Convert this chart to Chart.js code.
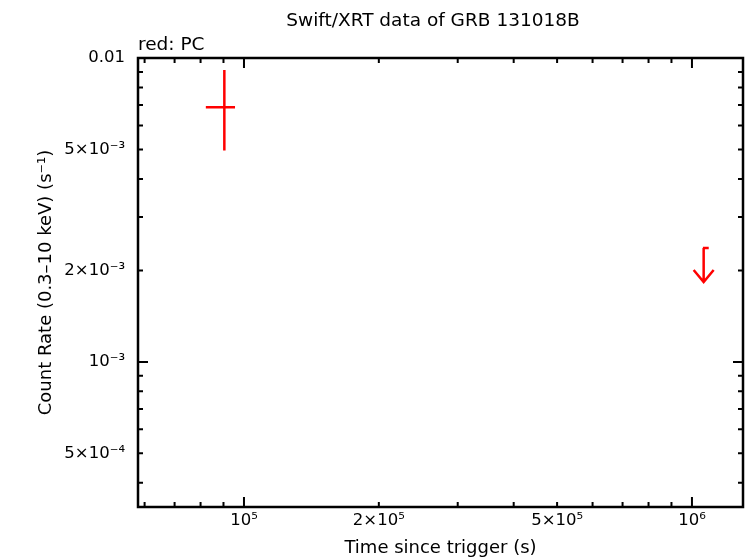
<!DOCTYPE html>
<html>
<head>
<meta charset="utf-8">
<script src="https://cdn.jsdelivr.net/npm/chart.js@4"></script>
<style>
  html, body { margin: 0; padding: 0; background: #fff; }
  #wrap { width: 746px; height: 558px; }
</style>
</head>
<body>
<div id="wrap"><canvas id="lcChart"></canvas></div>
<script>
// PC mode detections: time (s), errors, count rate (s^-1), errors
const pcTime = [9.04e4];
const pcTimeLo = [8.22e4];
const pcTimeHi = [9.55e4];
const pcRate = [6.88e-3];
const pcRateLo = [4.96e-3];
const pcRateHi = [9.13e-3];

// PC mode upper limits
const ulTime = [1.062e6];
const ulTimeLo = [1.058e6];
const ulTimeHi = [1.09e6];
const ulRate = [2.37e-3];

// axis ticks
const xLabelTicks = [1e5, 2e5, 5e5, 1e6];
const xTickLabels = ['10⁵', '2×10⁵', '5×10⁵', '10⁶'];
const xMajorTicks = [1e5, 1e6];
const xMinorTicks = [6e4, 7e4, 8e4, 9e4, 2e5, 3e5, 4e5, 5e5, 6e5, 7e5, 8e5, 9e5];
const yLabelTicks = [5e-4, 1e-3, 2e-3, 5e-3, 1e-2];
const yTickLabels = ['5×10⁻⁴', '10⁻³', '2×10⁻³', '5×10⁻³', '0.01'];
const yMajorTicks = [1e-3, 1e-2];
const yMinorTicks = [4e-4, 5e-4, 6e-4, 7e-4, 8e-4, 9e-4, 2e-3, 3e-3, 4e-3, 5e-3, 6e-3, 7e-3, 8e-3, 9e-3];

const RED = '#ff0000';
const FONT = '"DejaVu Sans", Arial, Helvetica, sans-serif';

const framePlugin = {
    id: 'frame',
    afterDraw(chart) {
        let ctx = chart.ctx;
        let a = chart.chartArea;
        let xs = chart.scales.x, ys = chart.scales.y;
        ctx.save();
        ctx.strokeStyle = '#000';
        ctx.lineWidth = 2;
        // inward ticks on all four sides
        function xTick(v, len) {
            let px = xs.getPixelForValue(v);
            ctx.beginPath();
            ctx.moveTo(px, a.bottom); ctx.lineTo(px, a.bottom - len);
            ctx.moveTo(px, a.top); ctx.lineTo(px, a.top + len);
            ctx.stroke();
        }
        function yTick(v, len) {
            let py = ys.getPixelForValue(v);
            ctx.beginPath();
            ctx.moveTo(a.left, py); ctx.lineTo(a.left + len, py);
            ctx.moveTo(a.right, py); ctx.lineTo(a.right - len, py);
            ctx.stroke();
        }
        xMinorTicks.forEach(v => xTick(v, 5));
        xMajorTicks.forEach(v => xTick(v, 10));
        yMinorTicks.forEach(v => yTick(v, 5));
        yMajorTicks.forEach(v => yTick(v, 10));
        ctx.lineWidth = 2.5;
        ctx.strokeRect(a.left, a.top, a.right - a.left, a.bottom - a.top);
        // titles
        ctx.fillStyle = '#000';
        ctx.font = '18.5px ' + FONT;
        ctx.textAlign = 'center';
        ctx.textBaseline = 'middle';
        ctx.fillText('Swift/XRT data of GRB 131018B', 433, 21);
        ctx.textAlign = 'left';
        ctx.font = '18.5px ' + FONT;
        ctx.fillText('red: PC', a.left, 45);
        ctx.restore();
    },
    afterDatasetsDraw(chart) {
        let ctx = chart.ctx;
        let xs = chart.scales.x, ys = chart.scales.y;
        ctx.save();
        ctx.strokeStyle = RED;
        ctx.lineWidth = 2.5;
        // detections: cross error bars
        for (let i = 0; i < pcTime.length; i++) {
            let x = xs.getPixelForValue(pcTime[i]);
            let y = ys.getPixelForValue(pcRate[i]);
            ctx.beginPath();
            ctx.moveTo(xs.getPixelForValue(pcTimeLo[i]), y);
            ctx.lineTo(xs.getPixelForValue(pcTimeHi[i]), y);
            ctx.moveTo(x, ys.getPixelForValue(pcRateLo[i]));
            ctx.lineTo(x, ys.getPixelForValue(pcRateHi[i]));
            ctx.stroke();
        }
        // upper limits: arrow down
        for (let i = 0; i < ulTime.length; i++) {
            let x = xs.getPixelForValue(ulTime[i]);
            let y = ys.getPixelForValue(ulRate[i]);
            let tip = y + 34;
            ctx.beginPath();
            ctx.moveTo(xs.getPixelForValue(ulTimeLo[i]), y);
            ctx.lineTo(xs.getPixelForValue(ulTimeHi[i]), y);
            ctx.moveTo(x, y);
            ctx.lineTo(x, tip);
            ctx.moveTo(x - 10, tip - 12);
            ctx.lineTo(x, tip);
            ctx.lineTo(x + 10, tip - 12);
            ctx.stroke();
        }
        ctx.restore();
    }
};

let ctx = document.getElementById('lcChart').getContext('2d');
new Chart(ctx, {
    type: 'scatter',
    data: {
        datasets: [{
            label: 'PC',
            data: pcTime.map((t, i) => ({x: t, y: pcRate[i]})),
            pointRadius: 0,
            borderColor: RED,
            backgroundColor: RED
        }, {
            label: 'PC upper limit',
            data: ulTime.map((t, i) => ({x: t, y: ulRate[i]})),
            pointRadius: 0,
            borderColor: RED,
            backgroundColor: RED
        }]
    },
    options: {
        responsive: true,
        maintainAspectRatio: false,
        animation: false,
        layout: { padding: { top: 58, right: 3, bottom: 0, left: 0 } },
        plugins: {
            legend: { display: false },
            tooltip: { enabled: false }
        },
        scales: {
            x: {
                type: 'logarithmic',
                bounds: 'data',
                min: 5.8e4,
                max: 1.3e6,
                grid: { display: false },
                border: { display: false },
                afterBuildTicks: scale => { scale.ticks = xLabelTicks.map(v => ({value: v})); },
                afterFit: scale => { scale.height = 51; },
                ticks: {
                    autoSkip: false,
                    maxRotation: 0,
                    padding: -4,
                    color: '#000',
                    font: { family: FONT, size: 16.5 },
                    callback: (v) => xTickLabels[xLabelTicks.indexOf(v)]
                },
                title: {
                    display: true,
                    text: 'Time since trigger (s)',
                    color: '#000',
                    font: { family: FONT, size: 18 },
                    padding: { top: 0, bottom: -1 }
                }
            },
            y: {
                type: 'logarithmic',
                bounds: 'data',
                min: 3.33e-4,
                max: 1e-2,
                grid: { display: false },
                border: { display: false },
                afterBuildTicks: scale => { scale.ticks = yLabelTicks.map(v => ({value: v})); },
                afterFit: scale => { scale.width = 138; },
                ticks: {
                    autoSkip: false,
                    padding: 5,
                    color: '#000',
                    font: { family: FONT, size: 16.5 },
                    callback: (v) => yTickLabels[yLabelTicks.indexOf(v)]
                },
                title: {
                    display: true,
                    text: 'Count Rate (0.3–10 keV) (s⁻¹)',
                    color: '#000',
                    font: { family: FONT, size: 18 },
                    padding: { top: 36, bottom: 0 }
                }
            }
        }
    },
    plugins: [framePlugin]
});
</script>
</body>
</html>
